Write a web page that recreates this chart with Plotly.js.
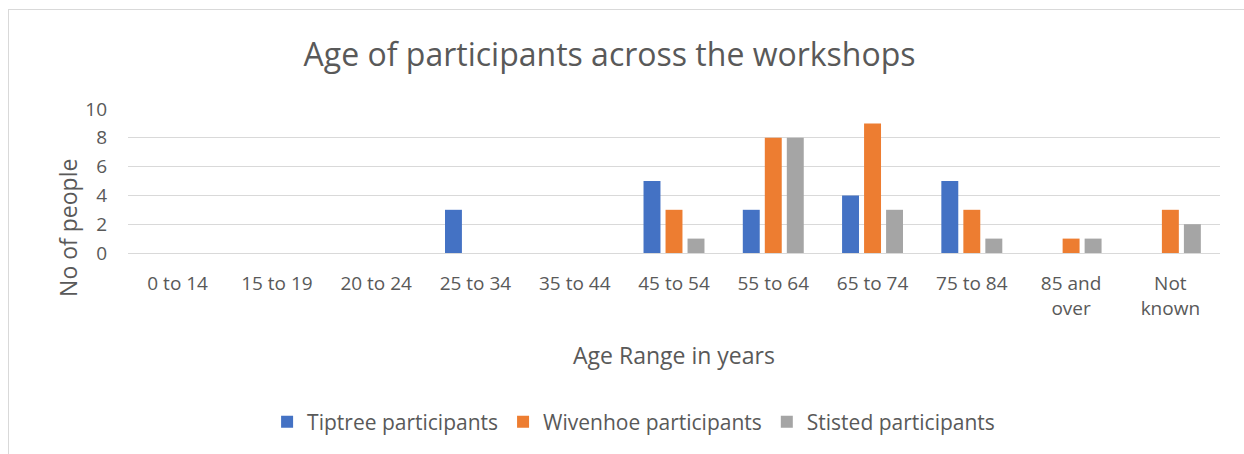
<!DOCTYPE html>
<html>
<head>
<meta charset="utf-8">
<script src="https://cdn.plot.ly/plotly-3.0.1.min.js"></script>
<style>
  html, body { margin: 0; padding: 0; background: #fff; overflow: hidden; }
  #chart {
    position: absolute; left: 8px; top: 9px;
    width: 1235px; height: 445px;
    border: 1px solid #D9D9D9;
  }
</style>
</head>
<body>
<div id="chart"></div>
<script>
const ageRanges = ['0 to 14', '15 to 19', '20 to 24', '25 to 34', '35 to 44', '45 to 54',
                   '55 to 64', '65 to 74', '75 to 84', '85 and<br>over', 'Not<br>known'];
const tiptree  = [0, 0, 0, 3, 0, 5, 3, 4, 5, 0, 0];
const wivenhoe = [0, 0, 0, 0, 0, 3, 8, 9, 3, 1, 3];
const stisted  = [0, 0, 0, 0, 0, 1, 8, 3, 1, 1, 2];

const FONT = '"Open Sans", Lato, sans-serif';
const GREY_TEXT = '#595959';

const series = [
    { name: 'Tiptree participants',  y: tiptree,  color: '#4472C4' },
    { name: 'Wivenhoe participants', y: wivenhoe, color: '#ED7D31' },
    { name: 'Stisted participants',  y: stisted,  color: '#A5A5A5' }
];

const traces = series.map(s => ({
    type: 'bar',
    name: s.name,
    x: ageRanges,
    y: s.y,
    marker: { color: s.color },
    hoverinfo: 'x+y+name'
}));

const layout = {
    width: 1235,
    height: 445,
    margin: { l: 119, r: 24, t: 99, b: 202 },
    paper_bgcolor: 'white',
    plot_bgcolor: 'white',
    font: { family: FONT, color: GREY_TEXT, size: 19 },
    barmode: 'group',
    bargap: 0.335,
    bargroupgap: 0.23,
    showlegend: true,
    title: {
        text: 'Age of participants across the workshops',
        font: { size: 32, color: GREY_TEXT, family: FONT },
        xref: 'paper', x: 0.441, xanchor: 'center',
        yref: 'container', y: 0.899, yanchor: 'middle'
    },
    xaxis: {
        type: 'category',
        showgrid: false,
        showline: false,
        zeroline: false,
        ticks: '',
        ticklabelstandoff: 17,
        tickfont: { size: 19, color: GREY_TEXT },
        title: { text: 'Age Range in years', font: { size: 23, color: GREY_TEXT }, standoff: 28 }
    },
    yaxis: {
        range: [0, 10],
        dtick: 2,
        showgrid: true,
        gridcolor: '#D9D9D9',
        gridwidth: 1,
        zeroline: true,
        zerolinecolor: '#D9D9D9',
        zerolinewidth: 1,
        showline: false,
        ticks: '',
        ticklabelstandoff: 20,
        tickfont: { size: 19, color: GREY_TEXT }
    },
    annotations: [{
        text: 'No of people',
        textangle: -90,
        xref: 'paper', yref: 'paper',
        x: -0.055, y: 0.174,
        xanchor: 'center', yanchor: 'middle',
        showarrow: false,
        font: { size: 23, color: GREY_TEXT, family: FONT }
    }],
    legend: {
        orientation: 'h',
        xref: 'paper', x: 0.463, xanchor: 'center',
        yref: 'container', y: 0.074, yanchor: 'middle',
        font: { size: 21, color: GREY_TEXT },
        itemwidth: 30,
        traceorder: 'normal'
    }
};

Plotly.newPlot('chart', traces, layout, { displayModeBar: false, responsive: false });
</script>
</body>
</html>
